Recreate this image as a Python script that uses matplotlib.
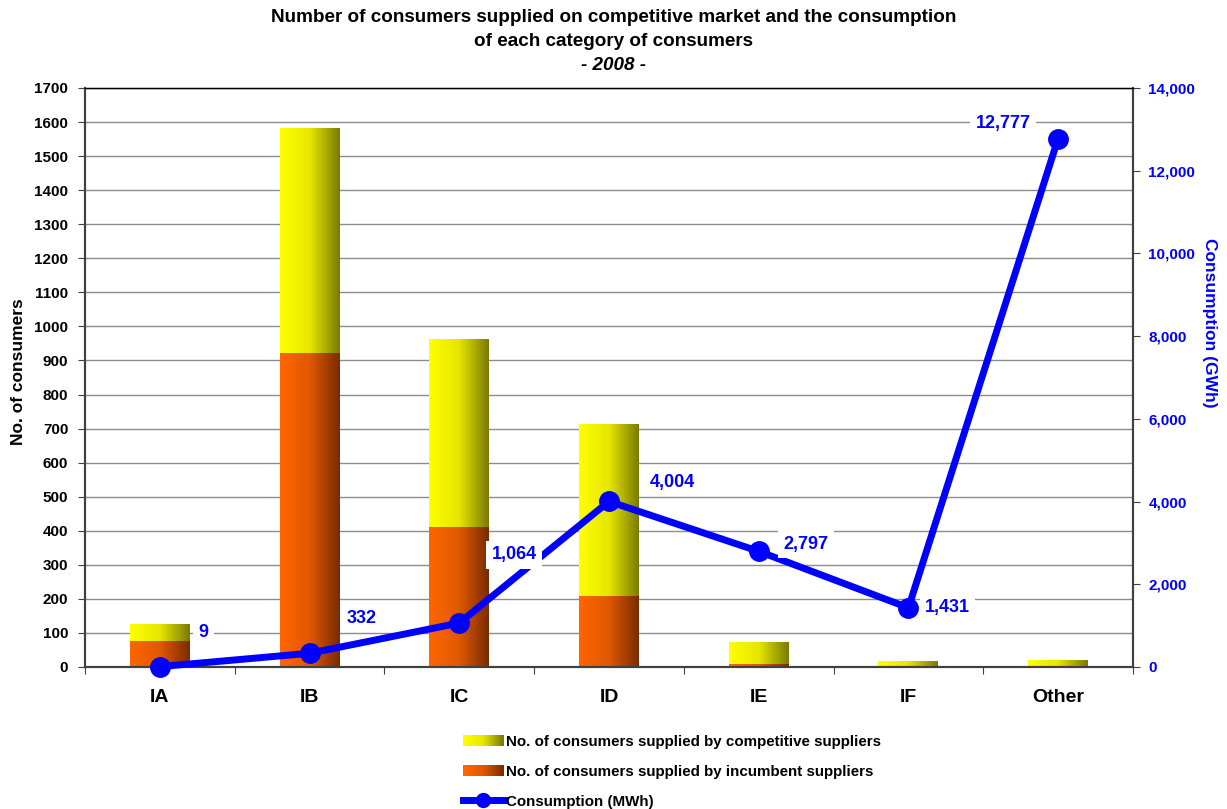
import numpy as np
import matplotlib
matplotlib.use("Agg")
import matplotlib.pyplot as plt
from matplotlib.colors import LinearSegmentedColormap
from matplotlib.legend_handler import HandlerBase
from matplotlib.patches import Rectangle
from matplotlib.lines import Line2D
from matplotlib.ticker import FuncFormatter, MultipleLocator

plt.rcParams['font.family'] = ['Liberation Sans', 'DejaVu Sans']
plt.rcParams['font.weight'] = 'bold'

categories = ['IA', 'IB', 'IC', 'ID', 'IE', 'IF', 'Other']
incumbent = [76, 922, 411, 208, 9, 3, 3]
competitive = [50, 660, 552, 505, 65, 15, 18]
consumption = [9, 332, 1064, 4004, 2797, 1431, 12777]
# label offsets in pixels (dx, dy) relative to each point
label_offsets = [(44, 34), (52, 35), (55, 68), (63, 19), (47, 7), (39, 0), (-55, 15)]

yellow_cmap = LinearSegmentedColormap.from_list('yel', ['#ffff00', '#e6e600', '#7a7a00'])
orange_cmap = LinearSegmentedColormap.from_list('ora', ['#ff6600', '#e05800', '#782c00'])

fig = plt.figure(figsize=(12.27, 8.09), dpi=100)
ax = fig.add_axes([85 / 1227, 1 - 667 / 809, (1133 - 85) / 1227, (667 - 88) / 809])
ax2 = ax.twinx()

x = np.arange(len(categories))
width = 0.4
grad = np.linspace(0, 1, 256).reshape(1, -1)


def gradient_bars(bars, cmap):
    for b in bars:
        b.set_facecolor('none')
        b.set_edgecolor('none')
        x0, y0 = b.get_x(), b.get_y()
        im = ax.imshow(grad, cmap=cmap, aspect='auto', zorder=2,
                       extent=[x0, x0 + b.get_width(), y0, y0 + b.get_height()])
        im.set_clip_path(b)


b1 = ax.bar(x, incumbent, width, zorder=2)
b2 = ax.bar(x, competitive, width, bottom=incumbent, zorder=2)
gradient_bars(b1, orange_cmap)
gradient_bars(b2, yellow_cmap)

ax.set_xlim(-0.5, len(categories) - 0.5)
ax.set_ylim(0, 1700)
ax.yaxis.set_major_locator(MultipleLocator(100))
ax.set_axisbelow(True)
ax.grid(axis='y', color='#8c8c8c', linewidth=1)
ax.tick_params(axis='y', labelsize=11, direction='out', length=5, color='#404040', pad=7)
for lab in ax.get_yticklabels():
    lab.set_fontweight('bold')

ax.set_xticks(np.arange(-0.5, len(categories), 1.0))
ax.set_xticklabels([])
ax.tick_params(axis='x', which='major', direction='out', length=5, color='#404040')
ax.set_xticks(x, minor=True)
ax.set_xticklabels(categories, minor=True, fontsize=14, fontweight='bold')
ax.tick_params(axis='x', which='minor', length=0, pad=16)

for s in ['left', 'right', 'bottom']:
    ax.spines[s].set_color('#404040')
    ax.spines[s].set_linewidth(1.5)
ax.spines['top'].set_color('black')
ax.spines['top'].set_linewidth(1)
for s in ['left', 'right', 'bottom']:
    ax2.spines[s].set_color('#404040')
    ax2.spines[s].set_linewidth(1.5)

fig.text(19 / 1227, 1 - 372 / 809, 'No. of consumers', rotation=90, ha='center',
         va='center', fontsize=12.5, fontweight='bold')

ax2.plot(x, consumption, color='#0000ff', linewidth=5, marker='o', markersize=14,
         zorder=5, clip_on=False)
ax2.set_ylim(0, 14000)
ax2.yaxis.set_major_locator(MultipleLocator(2000))
ax2.yaxis.set_major_formatter(FuncFormatter(lambda v, p: f'{int(v):,}'))
ax2.tick_params(axis='y', labelsize=11, labelcolor='#0000ff', direction='out',
                length=5, color='#404040', pad=6)
for lab in ax2.get_yticklabels():
    lab.set_fontweight('bold')
fig.text(1209 / 1227, 1 - 323 / 809, 'Consumption (GWh)', rotation=-90, ha='center',
         va='center', fontsize=12.5, fontweight='bold', color='#0000ff')

for xi, v, (dx, dy) in zip(x, consumption, label_offsets):
    ax2.annotate(f'{v:,}', xy=(xi, v), xytext=(dx, dy), textcoords='offset pixels',
                 ha='center', va='center', fontsize=13, fontweight='bold', color='#0000ff',
                 bbox=dict(boxstyle='square,pad=0.3', fc='white', ec='none'), zorder=6)

title_font = dict(ha='center', va='center', fontsize=13.6, fontweight='bold')
fig.text(0.5, 1 - 17 / 809,
         'Number of consumers supplied on competitive market and the consumption', **title_font)
fig.text(0.5, 1 - 42 / 809, 'of each category of consumers', **title_font)
fig.text(0.5, 1 - 66 / 809, '- 2008 -', style='italic', **title_font)


class GradientHandler(HandlerBase):
    def __init__(self, cmap):
        super().__init__()
        self.cmap = cmap

    def create_artists(self, legend, orig_handle, xdescent, ydescent, width, height,
                       fontsize, trans):
        n = 30
        artists = []
        for i in range(n):
            r = Rectangle((-xdescent + width * i / n, -ydescent), width / n + 0.3, height,
                          facecolor=self.cmap(i / (n - 1)), edgecolor='none',
                          transform=trans)
            artists.append(r)
        return artists


h1 = Rectangle((0, 0), 1, 1)
h2 = Rectangle((0, 0), 1, 1)
h3 = Line2D([], [], color='#0000ff', linewidth=5, marker='o', markersize=10)
fig.legend([h1, h2, h3],
           ['No. of consumers supplied by competitive suppliers',
            'No. of consumers supplied by incumbent suppliers',
            'Consumption (MWh)'],
           handler_map={h1: GradientHandler(yellow_cmap), h2: GradientHandler(orange_cmap)},
           loc='upper left', bbox_to_anchor=(463 / 1227, 1 - 735 / 809),
           frameon=False, borderpad=0, borderaxespad=0, handlelength=2.7,
           handletextpad=0.15, labelspacing=1.05, prop={'size': 10.9, 'weight': 'bold'})

fig.savefig('out.png', dpi=100)
